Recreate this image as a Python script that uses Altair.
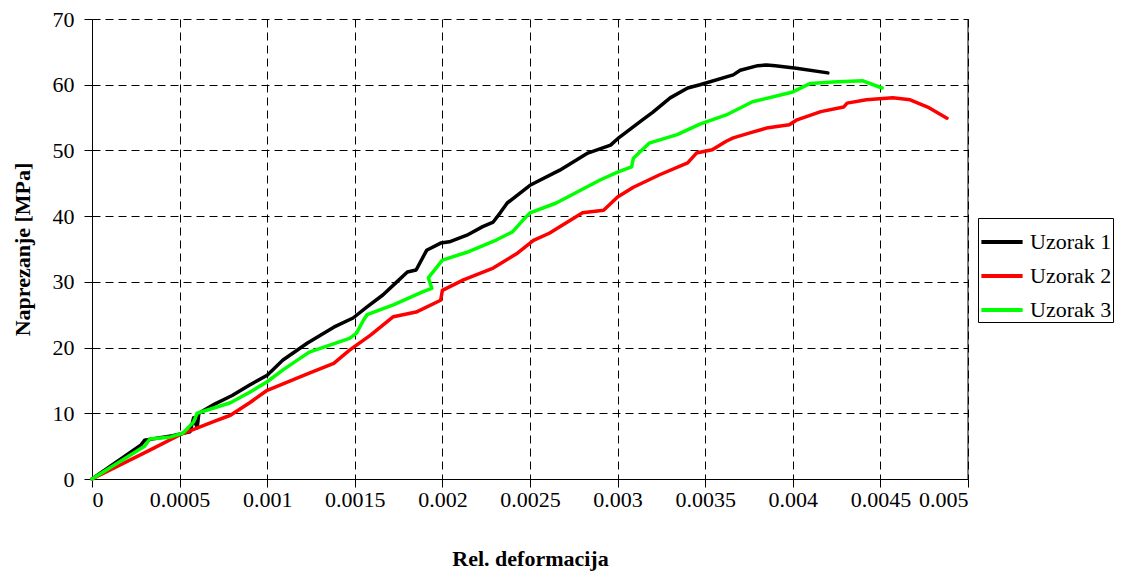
import altair as alt
import pandas as pd

series_names = ["Uzorak 1", "Uzorak 2", "Uzorak 3"]
series_colors = ["#000000", "#FF0000", "#00FF00"]

u1_strain = [0, 0.00028, 0.0003, 0.00046, 0.00056, 0.00058, 0.0006, 0.00061, 0.0007, 0.0008, 0.0009, 0.001,
             0.00109, 0.00123, 0.00138, 0.00149, 0.00157, 0.00166, 0.00174, 0.0018, 0.00185, 0.00191,
             0.00199, 0.00204, 0.00214, 0.00223, 0.00229, 0.00233, 0.00237, 0.0025, 0.00267, 0.00283,
             0.00296, 0.00301, 0.00314, 0.0032, 0.0033, 0.0034, 0.00347, 0.00366, 0.0037, 0.0038,
             0.00385, 0.0039, 0.00402, 0.0042]
u1_stress = [0, 5.2, 5.9, 6.6, 7.2, 9.3, 7.8, 10.0, 11.4, 12.7, 14.3, 15.8,
             18.1, 20.7, 23.1, 24.5, 26.2, 28.0, 30.0, 31.5, 31.8, 34.8,
             35.9, 36.1, 37.1, 38.4, 39.1, 40.5, 42.0, 44.7, 47.0, 49.6,
             50.8, 52.0, 54.6, 55.8, 58.0, 59.5, 60.0, 61.5, 62.2, 62.9,
             63.0, 62.9, 62.5, 61.8]

u2_strain = [0, 0.00033, 0.0005, 0.00069, 0.00079, 0.0009, 0.001, 0.00124, 0.00138, 0.00147, 0.00159,
             0.00172, 0.00185, 0.00199, 0.002, 0.00212, 0.00229, 0.00243, 0.00252, 0.00261, 0.0028,
             0.00292, 0.003, 0.00309, 0.00324, 0.0034, 0.00345, 0.00354, 0.00362, 0.00366, 0.00376,
             0.00385, 0.00398, 0.00402, 0.00416, 0.00429, 0.00431, 0.00442, 0.00457, 0.00467, 0.00477,
             0.00488]
u2_stress = [0, 4.4, 6.7, 8.7, 9.7, 11.6, 13.5, 16.1, 17.6, 19.6, 21.9,
             24.7, 25.4, 27.2, 28.7, 30.3, 32.1, 34.4, 36.3, 37.4, 40.5,
             40.9, 42.9, 44.4, 46.3, 48.1, 49.6, 50.1, 51.4, 51.9, 52.7,
             53.4, 53.9, 54.6, 55.9, 56.6, 57.2, 57.7, 58.0, 57.7, 56.6,
             54.9]

u3_strain = [0, 0.0003, 0.00033, 0.00045, 0.00052, 0.00058, 0.0006, 0.00079, 0.0009, 0.001, 0.00109,
             0.00124, 0.00147, 0.00151, 0.00155, 0.00157, 0.00172, 0.00189, 0.00194, 0.00192, 0.00194,
             0.002, 0.00214, 0.00231, 0.0024, 0.00246, 0.0025, 0.00265, 0.0029, 0.003, 0.00308,
             0.00309, 0.00318, 0.00334, 0.00347, 0.00362, 0.00377, 0.004, 0.0041, 0.00423, 0.0044,
             0.00451]
u3_stress = [0, 5.0, 6.1, 6.4, 7.0, 8.7, 10.0, 11.6, 13.2, 14.8, 16.6,
             19.3, 21.4, 22.2, 24.2, 25.0, 26.5, 28.5, 29.0, 30.6, 31.3,
             33.3, 34.5, 36.4, 37.6, 39.4, 40.5, 42.0, 45.5, 46.7, 47.5,
             48.8, 51.1, 52.4, 54.0, 55.4, 57.4, 58.9, 60.2, 60.4, 60.6,
             59.5]

x_ticks = [0, 0.0005, 0.001, 0.0015, 0.002, 0.0025, 0.003, 0.0035, 0.004, 0.0045, 0.005]
y_ticks = [0, 10, 20, 30, 40, 50, 60, 70]

FONT = "Times New Roman, Liberation Serif, serif"

def frame(name, xs, ys):
    return pd.DataFrame({"strain": xs, "stress": ys, "series": name, "idx": range(len(xs))})

color_scale = alt.Scale(domain=series_names, range=series_colors)

x_enc = alt.X("strain:Q", scale=alt.Scale(domain=[0, 0.005], nice=False),
              axis=alt.Axis(values=x_ticks, format="~g", title="Rel. deformacija",
                            titleX=438, titleY=79, titleBaseline="middle"))
y_enc = alt.Y("stress:Q", scale=alt.Scale(domain=[0, 70], nice=False),
              axis=alt.Axis(values=y_ticks, title="Naprezanje [MPa]",
                            titleX=-70, titleY=230, titleBaseline="middle", titleAngle=-90))

layers = []
for name, xs, ys in [(series_names[0], u1_strain, u1_stress),
                     (series_names[1], u2_strain, u2_stress),
                     (series_names[2], u3_strain, u3_stress)]:
    layers.append(
        alt.Chart(frame(name, xs, ys)).mark_line(strokeWidth=3.5, strokeJoin="round", strokeCap="round").encode(
            x=x_enc, y=y_enc, order="idx:Q",
            color=alt.Color("series:N", scale=color_scale,
                            legend=alt.Legend(title=None, orient="none", legendX=886, legendY=199,
                                              symbolType="stroke", symbolSize=1700, symbolStrokeWidth=4,
                                              labelFont=FONT, labelFontSize=22, labelColor="black",
                                              labelOffset=5, rowPadding=-1, padding=1,
                                              strokeColor="black", fillColor="white"))
        )
    )

border = alt.Chart(pd.DataFrame({"b": [0.005]})).mark_rule(color="black", strokeWidth=1).encode(
    x=alt.X("b:Q", scale=alt.Scale(domain=[0, 0.005], nice=False))
)

chart = alt.layer(*layers, border).properties(
    width=876, height=460,
    autosize=alt.AutoSizeParams(type="none"),
    padding={"left": 84, "top": 11, "right": 153, "bottom": 92},
).configure_view(stroke=None).configure_axis(
    labelFont=FONT, labelFontSize=22, labelColor="black",
    titleFont=FONT, titleFontSize=22, titleFontWeight="bold", titleColor="black",
    domainColor="black", domainWidth=1, tickColor="black", tickSize=8, tickWidth=1,
    grid=True, gridColor="black", gridDash=[8, 5], gridWidth=1, gridOpacity=1,
).configure_axisY(labelPadding=10).configure_axisX(labelPadding=2)

chart.save("out.html", embed_options={"renderer": "svg", "actions": False})
